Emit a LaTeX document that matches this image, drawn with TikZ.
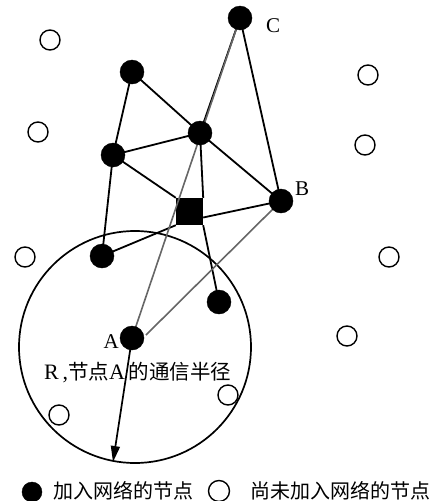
\documentclass[tikz,border=0pt]{standalone}
\usepackage{fontspec}
\setmainfont{Liberation Serif}
\newfontfamily\cjk{Noto Sans CJK SC}
\usetikzlibrary{arrows.meta,calc}
\tikzset{
  joined/.style={circle,fill=black,draw=black,inner sep=0pt,minimum size=24pt},
  free/.style={circle,draw=black,line width=1.4pt,fill=white,inner sep=0pt,minimum size=20pt},
  hub/.style={rectangle,fill=black,inner sep=0pt,minimum size=27pt},
  link/.style={line width=1.8pt,black},
  glink/.style={line width=1.6pt,color=black!60},
  lbl/.style={font=\fontsize{21}{21}\selectfont,inner sep=0pt},
  cjklbl/.style={font=\fontsize{20}{20}\selectfont\cjk,inner sep=0pt}
}
\begin{document}
\begin{tikzpicture}[x=1pt,y=-1pt]
\useasboundingbox[fill=white] (0,0) rectangle (430,501);
% range circle
\draw[line width=1.7pt] (135,347) circle[radius=116];
% coordinates of joined nodes
\coordinate (pC) at (240,18);
\coordinate (p1) at (132,72);
\coordinate (p2) at (200,133);
\coordinate (p3) at (113,155);
\coordinate (pB) at (281,201);
\coordinate (p4) at (102,256);
\coordinate (p5) at (219,302);
\coordinate (pA) at (132,338);
\node[hub] (sq) at (189.5,211.5) {};
% black links
\draw[link] (p1) -- (p3);
\draw[link] (p1) -- (p2);
\draw[link] (p2) -- (pC);
\draw[link] (pC) -- (pB);
\draw[link] (p2) -- (p3);
\draw[link] (p2) -- (pB);
\draw[link] (p3) -- (sq.north west);
\draw[link] (p3) -- (p4);
\draw[link] (p4) -- (sq.south west);
\coordinate (sqe) at ($(sq.east)+(0,6)$);
\draw[link] (sqe) -- (pB);
\draw[link] (p2) -- (sq.north east);
\draw[link] (sq.south east) -- (p5);
\node[hub] at (sq) {};
% gray links
\coordinate (aEdge) at ($(pA)+(14,-3)$);
\draw[glink] (pC) -- (pA);
\draw[glink] (pB) -- (aEdge);
% joined nodes
\node[joined] (C) at (pC) {};
\node[joined] (n1) at (p1) {};
\node[joined] (n2) at (p2) {};
\node[joined] (n3) at (p3) {};
\node[joined] (B) at (pB) {};
\node[joined] (n4) at (p4) {};
\node[joined] (n5) at (p5) {};
\node[joined] (A) at (pA) {};
% radius arrow
\coordinate (rim) at (113,462);
\draw[line width=1.7pt,-{Triangle[length=16pt,width=9pt]}] (A.center) -- (rim);
% free nodes
\node[free] (f1) at (50,40) {};
\node[free] (f2) at (38,132) {};
\node[free] (f3) at (25,257) {};
\node[free] (f4) at (368,75) {};
\node[free] (f5) at (365,145) {};
\node[free] (f6) at (389,257) {};
\node[free] (f7) at (347,336) {};
\node[free] (f8) at (59,415) {};
\node[free] (f9) at (228,395) {};
% labels
\node[lbl,anchor=base west] (lC) at (266,32) {C};
\node[lbl,anchor=base west] (lB) at (295,195) {B};
\node[lbl,anchor=base east] (lA) at (119,348) {A};
\node[inner sep=0pt,anchor=base west] (rtext) at (44,379)
  {\fontsize{22}{22}\selectfont R\,,{\cjk\fontsize{20.5}{20.5}\selectfont 节点}A\,{\cjk\fontsize{20.5}{20.5}\selectfont 的通信半径}};
% legend
\node[joined,minimum size=20pt] (lg1) at (32,492) {};
\node[cjklbl,anchor=base west] (lt1) at (53,498) {加入网络的节点};
\node[free,minimum size=21pt] (lg2) at (219,491) {};
\node[cjklbl,anchor=base west] (lt2) at (250,498) {尚未加入网络的节点};
\end{tikzpicture}
\end{document}
